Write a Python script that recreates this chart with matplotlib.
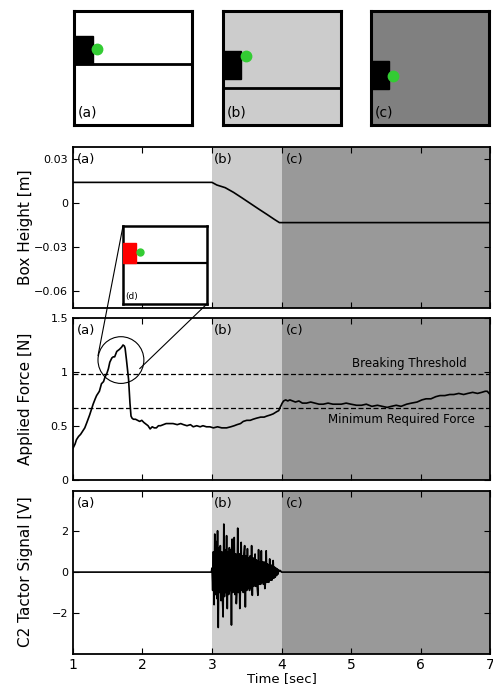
import numpy as np
import matplotlib
matplotlib.use('Agg')
import matplotlib.pyplot as plt
from matplotlib.patches import Rectangle, Ellipse, ConnectionPatch

# phase boundaries [sec]
phase_a = (1.0, 3.0)
phase_b = (3.0, 4.0)
phase_c = (4.0, 7.0)
phase_labels = ['(a)', '(b)', '(c)']
phase_label_x = [1.06, 3.02, 4.07]

# box height [m]
height_t = [1.0, 3.0, 3.07, 3.19, 3.31, 3.43, 3.55, 3.67, 3.79, 3.90, 3.97, 4.0, 7.0]
height_v = [0.0138, 0.0138, 0.0120, 0.0102, 0.0070, 0.0033, -0.0005, -0.0043, -0.0080,
            -0.0115, -0.0136, -0.0136, -0.0136]

# applied force [N]
force_t = [1.00, 1.03, 1.05, 1.08, 1.11, 1.14, 1.17, 1.20, 1.24, 1.27, 1.29, 1.32, 1.34,
           1.36, 1.38, 1.41, 1.44, 1.46, 1.49, 1.51, 1.53, 1.56, 1.58, 1.60, 1.63, 1.65,
           1.67, 1.70, 1.72, 1.74, 1.75, 1.77, 1.80, 1.82, 1.835, 1.85, 1.87, 1.90, 1.93,
           1.96, 1.99, 2.02, 2.04, 2.06, 2.08, 2.11, 2.14, 2.17, 2.20, 2.23, 2.26, 2.30,
           2.34, 2.38, 2.44, 2.50, 2.55, 2.59, 2.64, 2.69, 2.73, 2.78, 2.83, 2.87, 2.92,
           2.97, 3.02, 3.08, 3.14, 3.21, 3.27, 3.32, 3.36, 3.41, 3.45, 3.50, 3.55, 3.59,
           3.64, 3.70, 3.75, 3.79, 3.84, 3.88, 3.93, 3.96, 3.98, 4.01, 4.03, 4.06, 4.09,
           4.12, 4.16, 4.20, 4.25, 4.30, 4.36, 4.42, 4.48, 4.54, 4.60, 4.67, 4.74, 4.80,
           4.86, 4.93, 5.00, 5.08, 5.15, 5.22, 5.30, 5.38, 5.45, 5.52, 5.58, 5.65, 5.72,
           5.80, 5.87, 5.95, 6.02, 6.08, 6.15, 6.22, 6.28, 6.35, 6.42, 6.48, 6.55, 6.62,
           6.68, 6.75, 6.82, 6.88, 6.93, 6.96, 7.00]
force_v = [0.29, 0.33, 0.37, 0.40, 0.42, 0.45, 0.48, 0.53, 0.60, 0.66, 0.70, 0.75, 0.78,
           0.80, 0.82, 0.89, 0.91, 0.95, 0.99, 1.03, 1.09, 1.13, 1.14, 1.14, 1.19, 1.20,
           1.21, 1.23, 1.25, 1.24, 1.22, 1.11, 0.93, 0.71, 0.59, 0.57, 0.56, 0.56, 0.55,
           0.54, 0.55, 0.53, 0.52, 0.51, 0.50, 0.47, 0.49, 0.48, 0.48, 0.50, 0.50, 0.51,
           0.52, 0.52, 0.52, 0.51, 0.52, 0.51, 0.50, 0.51, 0.49, 0.50, 0.49, 0.50, 0.49,
           0.49, 0.48, 0.49, 0.48, 0.48, 0.49, 0.50, 0.51, 0.52, 0.54, 0.55, 0.55, 0.56,
           0.57, 0.58, 0.58, 0.59, 0.60, 0.61, 0.63, 0.64, 0.67, 0.71, 0.73, 0.74, 0.73,
           0.74, 0.73, 0.72, 0.73, 0.71, 0.71, 0.72, 0.71, 0.70, 0.70, 0.71, 0.70, 0.70,
           0.70, 0.71, 0.70, 0.69, 0.69, 0.70, 0.68, 0.69, 0.68, 0.67, 0.68, 0.69, 0.68,
           0.70, 0.71, 0.72, 0.74, 0.75, 0.75, 0.77, 0.78, 0.78, 0.79, 0.79, 0.80, 0.79,
           0.80, 0.81, 0.80, 0.81, 0.82, 0.82, 0.79]
breaking_threshold = 0.98
min_required_force = 0.66

# C2 tactor signal [V], sampled every 0.01 s from 3.00 to 3.99
tactor_burst = [0.2, -0.9, 1.0, -1.6, 1.87, -1.1, 1.5, -1.3, 2.03, -2.72,
                1.2, -1.0, 1.3, -1.4, 1.0, -1.2, -2.2, 2.36, -1.2, 1.1,
                -1.0, 1.79, -1.79, 1.0, -1.1, 1.2, -0.9, 1.1, -2.6, 1.62,
                -1.0, -0.8, 1.7, -1.1, 0.9, -1.55, -0.9, 2.16, -1.0, 0.9,
                -1.79, -0.8, 1.46, -0.9, 0.8, -1.0, 0.9, 1.3, -1.71, 0.8,
                -0.9, 1.15, -0.8, 0.7, -0.9, 0.8, -0.8, 1.3, -1.14, 0.7,
                -0.7, -0.6, 0.89, -0.7, 0.6, -0.7, -1.14, 1.1, -0.6, 0.5,
                -0.6, 1.05, -0.5, 0.5, -0.6, 0.5, -0.81, -0.5, 1.05, -0.5,
                0.4, -0.5, -0.49, 0.65, -0.4, 0.35, -0.4, -0.3, 0.57, -0.3,
                0.25, -0.25, 0.2, -0.17, 0.16, -0.1, 0.1, 0.05, 0.08, 0.05]
tactor_t = [1.0, 2.99] + list(np.round(3.0 + 0.01 * np.arange(len(tactor_burst)), 2)) + [4.0, 7.0]
tactor_v = [0.0, 0.0] + tactor_burst + [0.0, 0.0]

# cartoon snapshots: box (x0, y0, w, h), contact dot (x, y), table line height
snap_bg = ['white', '#cccccc', '#808080']
snap_box = [(0.0, 0.535, 0.16, 0.245), (0.0, 0.404, 0.155, 0.245), (0.0, 0.316, 0.155, 0.245)]
snap_dot = [(0.193, 0.667), (0.198, 0.605), (0.188, 0.43)]
snap_line = [0.535, 0.325, None]

col_b = '#cccccc'
col_c = '#999999'
green = '#33cc33'

fig = plt.figure(figsize=(4.93, 6.96), dpi=100)

# --- snapshots along the top ---
snap_left = [0.150, 0.452, 0.7525]
for i in range(3):
    sa = fig.add_axes([snap_left[i], 0.8204, 0.240, 0.1638])
    sa.set_xlim(0, 1)
    sa.set_ylim(0, 1)
    sa.set_facecolor(snap_bg[i])
    sa.set_xticks([])
    sa.set_yticks([])
    for s in sa.spines.values():
        s.set_linewidth(2.2)
    if snap_line[i] is not None:
        sa.axhline(snap_line[i], color='k', lw=2.0)
    x0, y0, w, h = snap_box[i]
    sa.add_patch(Rectangle((x0, y0), w, h, color='k', zorder=3))
    sa.plot(*snap_dot[i], 'o', color=green, ms=7.5, zorder=4)
    sa.text(0.03, 0.05, phase_labels[i], fontsize=10, ha='left', va='bottom')

# --- three time-series panels ---
ax1 = fig.add_axes([0.148, 0.557, 0.846, 0.232])
ax2 = fig.add_axes([0.148, 0.311, 0.846, 0.232])
ax3 = fig.add_axes([0.148, 0.061, 0.846, 0.234])

for ax in (ax1, ax2, ax3):
    ax.axvspan(*phase_b, color=col_b, lw=0, zorder=0)
    ax.axvspan(*phase_c, color=col_c, lw=0, zorder=0)
    ax.set_xlim(1, 7)
    ax.set_xticks([1, 2, 3, 4, 5, 6, 7])
    ax.tick_params(direction='in', top=True, right=True, length=4, width=0.8, labelsize=8)
    for s in ax.spines.values():
        s.set_linewidth(1.3)
    for lab, lx in zip(phase_labels, phase_label_x):
        ax.text(lx, 0.92, lab, transform=ax.get_xaxis_transform(), fontsize=9.5,
                ha='left', va='center')
    ax.yaxis.set_label_coords(-0.095, 0.5)

ax1.plot(height_t, height_v, color='k', lw=1.2)
ax1.set_ylim(-0.072, 0.038)
ax1.set_yticks([-0.06, -0.03, 0, 0.03])
ax1.set_yticklabels(['\u22120.06', '\u22120.03', '0', '0.03'])
ax1.set_ylabel('Box Height [m]', fontsize=11)
ax1.tick_params(labelbottom=False)

ax2.plot(force_t, force_v, color='k', lw=1.2, zorder=3)
ax2.axhline(breaking_threshold, color='k', ls='--', lw=0.9, dashes=(4, 2))
ax2.axhline(min_required_force, color='k', ls='--', lw=0.9, dashes=(4, 2))
ax2.text(6.66, breaking_threshold + 0.04, 'Breaking Threshold', fontsize=8.5,
         ha='right', va='bottom')
ax2.text(6.78, min_required_force - 0.04, 'Minimum Required Force', fontsize=8.5,
         ha='right', va='top')
ax2.set_ylim(0, 1.5)
ax2.set_yticks([0, 0.5, 1, 1.5])
ax2.set_yticklabels(['0', '0.5', '1', '1.5'])
ax2.set_ylabel('Applied Force [N]', fontsize=11)
ax2.tick_params(labelbottom=False)

# zoom circle around the force peak
circ_c = (1.69, 1.11)
ax2.add_patch(Ellipse(circ_c, 0.66, 0.434, fill=False, ec='k', lw=0.8, zorder=4))

ax3.plot(tactor_t, tactor_v, color='k', lw=1.2)
ax3.set_ylim(-4, 4)
ax3.set_yticks([-2, 0, 2])
ax3.set_yticklabels(['\u22122', '0', '2'])
ax3.set_ylabel('C2 Tactor Signal [V]', fontsize=11)
ax3.tick_params(axis='x', labelsize=10)
ax3.set_xlabel('Time [sec]', fontsize=9.5, labelpad=0)

# --- inset (d): snapshot at the force peak ---
ins = fig.add_axes([0.2495, 0.5632, 0.170, 0.112])
ins.set_xlim(0, 1)
ins.set_ylim(0, 1)
ins.set_facecolor('white')
ins.set_xticks([])
ins.set_yticks([])
for s in ins.spines.values():
    s.set_linewidth(1.8)
ins.axhline(0.526, color='k', lw=1.6)
ins.add_patch(Rectangle((0.0, 0.526), 0.155, 0.254, color='red', zorder=3))
ins.plot(0.2, 0.667, 'o', color=green, ms=5, zorder=4)
ins.text(0.03, 0.04, '(d)', fontsize=6.5, ha='left', va='bottom')

# lines linking inset to circle
con1 = ConnectionPatch(xyA=(0, 1), coordsA=ins.transAxes, xyB=(1.36, 1.15),
                       coordsB=ax2.transData, color='k', lw=0.8)
con2 = ConnectionPatch(xyA=(1, 0), coordsA=ins.transAxes, xyB=(1.96, 1.03),
                       coordsB=ax2.transData, color='k', lw=0.8)
fig.add_artist(con1)
fig.add_artist(con2)

fig.savefig('out.png', dpi=100)
